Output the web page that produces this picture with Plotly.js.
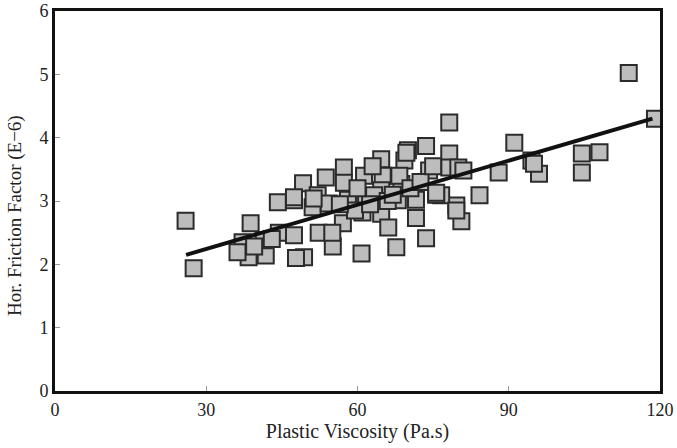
<!DOCTYPE html>
<html>
<head>
<meta charset="utf-8">
<script src="https://cdn.plot.ly/plotly-3.0.1.min.js"></script>
<style>html,body{margin:0;padding:0;background:#fff;}#chart{width:677px;height:448px;}</style>
</head>
<body>
<div id="chart"></div>
<script>
// Plastic viscosity (Pa.s)
const pvX = [25.9, 27.5, 38.8, 38.4, 37.2, 36.2, 41.8, 41.4, 44.2, 47.4, 49.2, 44.4, 47.4, 49.4, 47.8,
  52.1, 53.7, 57.3, 57.3, 52.3, 55.1, 57.1, 55.0, 51.1, 60.8, 61.0, 78.2, 91.1, 94.5, 88.0,
  84.2, 79.6, 80.6, 73.6, 67.7, 73.6, 70.0, 69.3, 64.7, 65.0, 61.3, 78.2, 78.2, 80.0, 74.2,
  71.6, 68.7, 68.0, 64.7, 61.7, 58.1, 76.6, 79.6, 71.6, 64.7, 113.8, 119.0, 104.5, 108.0, 104.5,
  96.0, 95.0, 54.3, 63.3, 66.1, 51.3, 75.6, 69.7, 68.3, 47.4, 59.5, 62.5, 66.0, 70.5, 72.5,
  75.0, 60.0, 67.0, 63.0, 81.0, 75.6, 39.5, 43.0, 56.5];
// Horizontal friction factor (E-6)
const hffY = [2.69, 1.94, 2.65, 2.11, 2.35, 2.19, 2.14, 2.38, 2.98, 3.01, 3.28, 2.50, 2.46, 2.11, 2.10,
  3.09, 3.37, 3.53, 3.29, 2.50, 2.28, 2.65, 2.50, 2.90, 2.17, 2.82, 4.24, 3.92, 3.64, 3.45,
  3.09, 2.93, 2.68, 2.41, 2.27, 3.87, 3.80, 3.64, 3.66, 3.40, 3.40, 3.75, 3.53, 3.53, 3.48,
  3.02, 3.27, 3.01, 3.17, 3.04, 3.02, 3.09, 2.85, 2.73, 2.80, 5.02, 4.30, 3.75, 3.77, 3.45,
  3.43, 3.59, 2.96, 3.09, 2.58, 3.04, 3.10, 3.76, 3.40, 3.06, 2.85, 2.95, 3.00, 3.20, 3.30,
  3.55, 3.20, 3.10, 3.55, 3.48, 3.13, 2.28, 2.40, 2.95];
// Trend line end points
const lineX = [26, 118.5];
const lineY = [2.15, 4.30];
const xTicks = [0, 30, 60, 90, 120];
const yTicks = [0, 1, 2, 3, 4, 5, 6];

const font = {family: 'Liberation Serif, DejaVu Serif, serif', color: '#222'};

const traces = [
  {
    x: pvX, y: hffY, type: 'scatter', mode: 'markers',
    marker: {symbol: 'square', size: 16, color: '#bdbdbd', line: {color: '#2b2b2b', width: 2}},
    hoverinfo: 'skip'
  },
  {
    x: lineX, y: lineY, type: 'scatter', mode: 'lines',
    line: {color: '#111', width: 4}, hoverinfo: 'skip'
  }
];

const layout = {
  width: 677, height: 448,
  margin: {l: 55, r: 17, t: 11, b: 57},
  paper_bgcolor: '#fff', plot_bgcolor: '#fff',
  showlegend: false,
  font: Object.assign({size: 18}, font),
  xaxis: {
    range: [0, 120], tickvals: xTicks, ticktext: xTicks.map(String),
    showgrid: false, zeroline: false,
    showline: true, mirror: true, linecolor: '#111', linewidth: 3,
    ticks: 'inside', ticklen: 5, tickcolor: '#999', tickwidth: 1,
    tickfont: Object.assign({size: 18}, font),
    title: {text: 'Plastic Viscosity (Pa.s)', font: Object.assign({size: 20}, font), standoff: 5}
  },
  yaxis: {
    range: [0, 6], tickvals: yTicks, ticktext: yTicks.map(String),
    showgrid: false, zeroline: false,
    showline: true, mirror: true, linecolor: '#111', linewidth: 3,
    ticks: 'inside', ticklen: 5, tickcolor: '#999', tickwidth: 1,
    tickfont: Object.assign({size: 18}, font)
  },
  annotations: [{
    text: 'Hor. Friction Factor (E\u22126)', textangle: -90,
    xref: 'paper', yref: 'paper', x: 0, y: 0.5, xshift: -40, yshift: -15,
    xanchor: 'center', yanchor: 'middle', showarrow: false,
    font: Object.assign({size: 19}, font)
  }]
};

Plotly.newPlot('chart', traces, layout, {displayModeBar: false, staticPlot: true});
</script>
</body>
</html>
